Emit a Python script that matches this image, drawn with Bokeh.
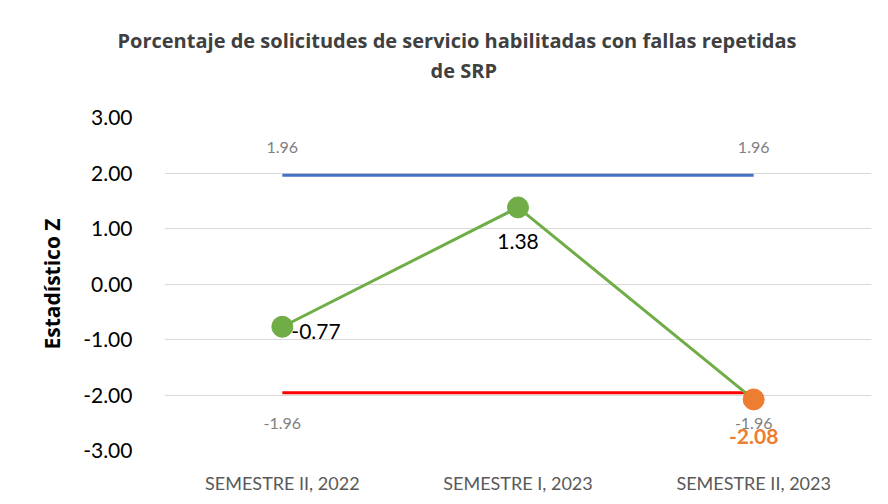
from bokeh.plotting import figure
from bokeh.models import Range1d, FactorRange, ColumnDataSource, Title, CustomJSTickFormatter
from bokeh.core.properties import value
from bokeh.embed import file_html
from bokeh.resources import INLINE

categories = ["SEMESTRE II, 2022", "SEMESTRE I, 2023", "SEMESTRE II, 2023"]
z_values = [-0.77, 1.38, -2.08]
upper_limit = [1.96, 1.96, 1.96]
lower_limit = [-1.96, -1.96, -1.96]
y_ticks = [-3, -2, -1, 0, 1, 2, 3]
title_lines = ["Porcentaje de solicitudes de servicio habilitadas con fallas repetidas", "de SRP"]

FONT = "Lato"
FONT2 = "Open Sans"
W, H = 880, 496

p = figure(width=W, height=H, x_range=FactorRange(*categories), y_range=Range1d(-3, 3),
           output_backend="svg", toolbar_location=None,
           min_border_left=164, min_border_right=9, min_border_top=117, min_border_bottom=46)
p.outline_line_color = None
p.background_fill_color = "white"
p.border_fill_color = "white"

title_style = dict(text_font=FONT2, text_font_size="20px", text_font_style="bold",
                   text_color="#404040", align="left")
t2 = Title(text=title_lines[1], offset=266, standoff=68, **title_style)
try:
    t1 = Title(text=title_lines[0], offset=-47, standoff=-66, **title_style)
except Exception:
    t1 = Title(text=title_lines[0], offset=-47, standoff=0, **title_style)
p.add_layout(t2, "above")
p.add_layout(t1, "above")

p.xgrid.grid_line_color = None
p.ygrid.grid_line_color = "#d9d9d9"
p.ygrid.grid_line_width = 1
p.yaxis.ticker = y_ticks
p.yaxis.formatter = CustomJSTickFormatter(code="return tick.toFixed(2);")
for ax in (p.xaxis[0], p.yaxis[0]):
    ax.axis_line_color = None
    ax.major_tick_line_color = None
    ax.minor_tick_line_color = None
p.yaxis.major_label_text_font = FONT
p.yaxis.major_label_text_font_size = "21px"
p.yaxis.major_label_text_color = "#000000"
p.yaxis.major_label_standoff = 26
p.yaxis.axis_label = "Estadístico Z"
p.yaxis.axis_label_text_font = FONT2
p.yaxis.axis_label_text_font_size = "21px"
p.yaxis.axis_label_text_font_style = "bold"
p.yaxis.axis_label_text_color = "#000000"
p.yaxis.axis_label_standoff = 14
p.xaxis.major_label_text_font = FONT
p.xaxis.major_label_text_font_size = "18px"
p.xaxis.major_label_text_color = "#595959"
p.xaxis.major_label_standoff = 15

src = ColumnDataSource(dict(x=categories, z=z_values, up=upper_limit, lo=lower_limit))

p.line("x", "up", source=src, line_color="#4472C4", line_width=3)
p.line("x", "lo", source=src, line_color="#FF0000", line_width=3)
p.line("x", "z", source=src, line_color="#70AD47", line_width=3)

marker_colors = ["#70AD47", "#70AD47", "#ED7D31"]
src.data["mc"] = marker_colors
p.scatter("x", "z", source=src, size=21, fill_color="mc", line_color="mc")

ends = ColumnDataSource(dict(x=[categories[0], categories[-1]],
                             up=[upper_limit[0], upper_limit[-1]],
                             lo=[lower_limit[0], lower_limit[-1]],
                             upl=[f"{upper_limit[0]:.2f}", f"{upper_limit[-1]:.2f}"],
                             lol=[f"{lower_limit[0]:.2f}", f"{lower_limit[-1]:.2f}"]))
p.text("x", "up", text="upl", source=ends, text_font=value(FONT), text_font_size="16px",
       text_color="#808080", text_align="center", text_baseline="middle", y_offset=-28)
p.text("x", "lo", text="lol", source=ends, text_font=value(FONT), text_font_size="16px",
       text_color="#808080", text_align="center", text_baseline="middle", y_offset=31)

p.text([categories[0]], [z_values[0]], text=[f"{z_values[0]:.2f}"], text_font=value(FONT),
       text_font_size="21px", text_color="#000000", text_align="left", text_baseline="middle",
       x_offset=9, y_offset=5)
p.text([categories[1]], [z_values[1]], text=[f"{z_values[1]:.2f}"], text_font=value(FONT),
       text_font_size="21px", text_color="#000000", text_align="center", text_baseline="middle",
       y_offset=34)
p.text([categories[2]], [z_values[2]], text=[f"{z_values[2]:.2f}"], text_font=value(FONT),
       text_font_size="21px", text_font_style="bold", text_color="#ED7D31", text_align="center",
       text_baseline="middle", y_offset=37)

open("out.html", "w").write(file_html(p, INLINE))
